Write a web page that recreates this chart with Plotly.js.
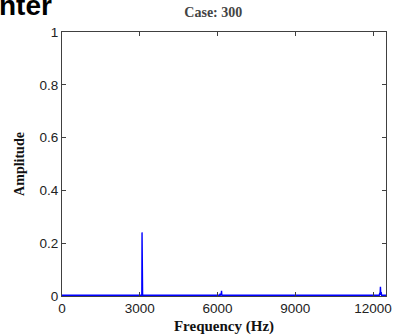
<!DOCTYPE html>
<html>
<head>
<meta charset="utf-8">
<script src="https://cdn.plot.ly/plotly-3.0.1.min.js"></script>
<style>html,body{margin:0;padding:0;background:#fff;}#chart{width:395px;height:336px;}</style>
</head>
<body>
<div id="chart"></div>
<script>
// Frequency (Hz) and amplitude
const frequency = [0, 1500, 3070, 3080, 3088, 3096, 3110, 4500, 6080, 6100, 6110, 6140, 6155, 6165, 6180, 9000, 12240, 12260, 12270, 12285, 12300, 12315, 12330, 12500];
const amplitude = [0.003, 0.003, 0.003, 0.004, 0.241, 0.004, 0.003, 0.003, 0.003, 0.009, 0.003, 0.004, 0.02, 0.004, 0.003, 0.003, 0.003, 0.012, 0.004, 0.035, 0.004, 0.015, 0.003, 0.003];
const xTicks = [0, 3000, 6000, 9000, 12000];
const yTicks = [0, 0.2, 0.4, 0.6, 0.8, 1];
const chartTitle = 'Case: 300';
const xLabel = 'Frequency (Hz)';
const yLabel = 'Amplitude';
const slideText = 'nter';

const axisCommon = {
  showline: true, linecolor: '#404040', linewidth: 1, mirror: 'ticks',
  ticks: 'inside', ticklen: 4, tickcolor: '#404040', tickwidth: 1,
  showgrid: false, zeroline: false,
  tickfont: {family: 'Arial, Liberation Sans, sans-serif', size: 13.5, color: '#222'}
};

Plotly.newPlot('chart', [{
  x: frequency, y: amplitude, type: 'scatter', mode: 'lines',
  line: {color: '#0000ff', width: 1.4}, hoverinfo: 'skip'
}], {
  width: 395, height: 336,
  margin: {l: 62, r: 9, t: 32, b: 40},
  paper_bgcolor: '#fff', plot_bgcolor: '#fff',
  showlegend: false,
  title: {text: chartTitle, x: 0.54, xanchor: 'center', y: 0.948, yanchor: 'bottom',
    font: {family: 'Liberation Serif, Times New Roman, serif', size: 14, color: '#444', weight: 'bold'}},
  xaxis: Object.assign({}, axisCommon, {range: [0, 12500], tickvals: xTicks, ticktext: xTicks.map(String),
    title: {text: xLabel, standoff: 5, font: {family: 'Liberation Serif, Times New Roman, serif', size: 15, color: '#111', weight: 'bold'}}}),
  yaxis: Object.assign({}, axisCommon, {range: [0, 1], tickvals: yTicks, ticktext: yTicks.map(String),
    title: {text: yLabel, standoff: 11, font: {family: 'Liberation Serif, Times New Roman, serif', size: 14, color: '#111', weight: 'bold'}}}),
  annotations: [{
    text: slideText, xref: 'paper', yref: 'paper', x: -0.2, y: 1.102, xanchor: 'left', yanchor: 'middle',
    showarrow: false, font: {family: 'Arial, Liberation Sans, sans-serif', size: 28, color: '#000', weight: 'bold'}
  }]
}, {displayModeBar: false, staticPlot: true});
</script>
</body>
</html>
